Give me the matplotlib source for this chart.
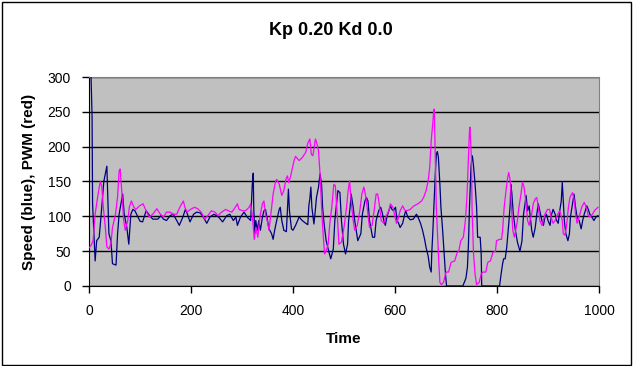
import matplotlib
matplotlib.use("Agg")
import matplotlib.pyplot as plt
from matplotlib.patches import Rectangle

plt.rcParams["font.family"] = ["Liberation Sans", "DejaVu Sans"]

# Speed (blue) series
speed_t = [0, 4, 6, 7, 12, 15, 20, 25, 29, 35, 37, 39, 43, 46, 53, 56, 59, 66, 69, 74,
           78, 82, 86, 90, 100, 105, 112, 120, 125, 135, 141, 146, 152, 159, 165, 172,
           177, 184, 189, 193, 198, 205, 211, 218, 224, 231, 237, 245, 254, 262, 270,
           276, 283, 288, 291, 297, 304, 310, 317, 320, 322, 323, 325, 327, 330, 333,
           336, 340, 343, 346, 350, 353, 358, 361, 364, 368, 373, 375, 378, 382, 387,
           389, 391, 393, 397, 400, 405, 412, 418, 425, 429, 431, 433, 435, 437, 441,
           443, 446, 450, 453, 456, 458, 461, 465, 470, 474, 479, 482, 486, 488, 492,
           495, 499, 503, 507, 509, 512, 514, 518, 521, 524, 527, 533, 536, 541, 544,
           547, 550, 556, 560, 563, 568, 572, 575, 578, 581, 584, 588, 591, 594, 597,
           601, 604, 607, 610, 615, 619, 621, 625, 630, 636, 642, 645, 650, 654, 658,
           661, 665, 668, 671, 672, 674, 677, 679, 681, 683, 685, 688, 690, 693, 696,
           699, 701, 733, 739, 742, 744, 746, 749, 751, 752, 754, 757, 760, 762, 767,
           769, 770, 805, 808, 811, 813, 816, 819, 823, 826, 827, 829, 832, 836, 840,
           845, 849, 852, 855, 857, 860, 863, 866, 868, 871, 875, 878, 881, 884, 888,
           891, 894, 897, 900, 904, 907, 910, 914, 917, 920, 923, 926, 928, 930, 932,
           935, 939, 942, 944, 948, 951, 954, 957, 961, 965, 968, 971, 976, 979, 982,
           986, 990, 994, 998]
speed = [330, 300, 243, 118, 36, 65, 70, 113, 150, 172, 122, 75, 65, 32, 30, 75, 103,
         132, 103, 85, 60, 103, 110, 108, 93, 92, 108, 100, 96, 96, 101, 96, 94, 101,
         103, 94, 87, 99, 110, 103, 92, 103, 106, 105, 99, 90, 99, 103, 99, 92, 101,
         103, 94, 99, 87, 99, 106, 99, 94, 144, 162, 113, 75, 94, 80, 94, 80, 99, 108,
         110, 94, 82, 75, 67, 80, 94, 110, 113, 94, 80, 78, 108, 139, 108, 82, 80, 87,
         99, 94, 90, 88, 115, 125, 142, 113, 89, 103, 127, 142, 161, 146, 113, 89, 65,
         50, 39, 53, 94, 122, 137, 134, 94, 60, 46, 60, 94, 113, 132, 113, 94, 80, 65,
         75, 103, 122, 127, 122, 94, 70, 70, 94, 108, 113, 105, 94, 87, 99, 108, 115,
         110, 108, 113, 94, 90, 84, 90, 103, 108, 99, 95, 96, 103, 99, 90, 80, 67, 55,
         43, 27, 20, 46, 75, 127, 161, 189, 193, 185, 146, 113, 84, 50, 17, 0, 0, 11,
         27, 60, 113, 170, 187, 185, 172, 146, 113, 70, 70, 46, 0, 0, 17, 32, 39, 39,
         55, 89, 118, 146, 134, 103, 80, 63, 50, 65, 103, 118, 130, 108, 115, 94, 80,
         70, 84, 103, 118, 108, 94, 87, 99, 103, 94, 87, 103, 110, 103, 94, 90, 108,
         122, 149, 122, 94, 75, 65, 75, 99, 118, 132, 113, 99, 94, 82, 94, 103, 115,
         110, 103, 99, 94, 99, 101]

# PWM (magenta) series
pwm_t = [0, 4, 8, 12, 17, 22, 25, 28, 32, 35, 39, 43, 46, 52, 56, 59, 61, 65, 68, 71,
         76, 79, 83, 88, 92, 99, 106, 113, 118, 125, 133, 139, 146, 152, 159, 165, 172,
         178, 185, 188, 192, 199, 207, 213, 220, 227, 233, 240, 247, 253, 260, 268,
         273, 280, 286, 291, 294, 301, 307, 314, 317, 320, 324, 327, 331, 335, 340,
         343, 346, 350, 353, 358, 361, 366, 368, 373, 378, 382, 386, 389, 392, 396,
         399, 402, 405, 412, 418, 425, 429, 433, 436, 439, 442, 444, 447, 450, 453,
         456, 459, 462, 465, 469, 472, 476, 480, 483, 487, 490, 495, 500, 505, 508,
         511, 514, 518, 521, 526, 531, 535, 539, 543, 547, 550, 555, 559, 563, 566,
         569, 573, 578, 582, 588, 591, 596, 600, 603, 606, 610, 615, 619, 623, 630,
         637, 645, 652, 656, 661, 665, 668, 671, 674, 676, 677, 679, 681, 684, 686,
         688, 691, 695, 700, 705, 710, 717, 722, 725, 729, 734, 738, 741, 744, 746,
         747, 750, 751, 754, 757, 760, 765, 769, 772, 778, 782, 787, 792, 797, 799,
         805, 809, 811, 814, 818, 821, 823, 826, 828, 831, 834, 839, 843, 847, 850,
         853, 857, 860, 863, 866, 868, 871, 875, 878, 881, 884, 888, 891, 894, 899,
         903, 906, 910, 914, 919, 923, 925, 928, 930, 933, 936, 940, 943, 948, 951,
         954, 957, 961, 966, 971, 975, 979, 982, 987, 992, 998]
pwm = [55, 58, 65, 103, 128, 150, 143, 113, 84, 56, 53, 61, 84, 103, 128, 165, 168,
       128, 94, 80, 94, 113, 122, 113, 110, 115, 118, 106, 99, 103, 111, 104, 99, 106,
       106, 103, 103, 113, 122, 113, 106, 110, 113, 111, 106, 96, 101, 108, 106, 101,
       106, 110, 108, 106, 112, 118, 110, 108, 108, 113, 118, 103, 67, 84, 70, 99, 118,
       122, 103, 92, 80, 113, 132, 151, 153, 146, 130, 137, 153, 158, 148, 160, 170,
       180, 186, 180, 184, 192, 205, 211, 189, 187, 201, 211, 204, 194, 161, 113, 75,
       46, 50, 60, 89, 113, 146, 144, 99, 60, 63, 84, 113, 137, 151, 122, 94, 80, 87,
       108, 132, 142, 127, 103, 84, 87, 108, 132, 132, 118, 94, 90, 99, 108, 118, 113,
       99, 90, 96, 108, 115, 109, 108, 110, 115, 118, 122, 127, 137, 151, 170, 209,
       233, 252, 254, 185, 113, 65, 32, 5, 2, 5, 20, 20, 34, 36, 48, 50, 65, 70, 94,
       127, 185, 223, 228, 180, 113, 46, 17, 2, 5, 17, 20, 20, 34, 36, 48, 50, 65, 67,
       67, 80, 113, 139, 156, 163, 151, 118, 80, 70, 89, 113, 132, 149, 142, 118, 94,
       87, 98, 103, 118, 125, 127, 113, 94, 87, 94, 103, 110, 110, 99, 90, 94, 103,
       108, 103, 94, 75, 73, 84, 113, 127, 134, 125, 103, 90, 99, 113, 120, 113, 101,
       99, 103, 109, 113]

x_ticks = [0, 200, 400, 600, 800, 1000]
y_ticks = [0, 50, 100, 150, 200, 250, 300]

fig = plt.figure(figsize=(6.34, 3.66), dpi=100)
fig.patch.set_facecolor("white")
fig.patches.append(Rectangle((0.003, 0.004), 0.993, 0.99, transform=fig.transFigure,
                             fill=False, edgecolor="black", linewidth=1.0))

ax = fig.add_axes([0.1404, 0.2186, 0.8044, 0.571])
ax.set_facecolor("#C0C0C0")

ax.plot(speed_t, speed, color="#000080", linewidth=0.9, zorder=3)
ax.plot(pwm_t, pwm, color="#FF00FF", linewidth=0.9, zorder=4)

ax.set_xlim(0, 1000)
ax.set_ylim(0, 300)
ax.set_xticks(x_ticks)
ax.set_yticks(y_ticks)
ax.yaxis.grid(True, color="black", linewidth=1.0)
ax.set_axisbelow(True)

for side in ("top", "right"):
    ax.spines[side].set_color("#808080")
for side in ("left", "bottom"):
    ax.spines[side].set_color("black")
ax.tick_params(direction="out", length=5, width=1, labelsize=10, colors="black", pad=8)

fig.text(0.522, 0.918, "Kp 0.20 Kd 0.0", ha="center", va="center",
         fontsize=13, fontweight="bold")
ax.set_xlabel("Time", fontsize=11, fontweight="bold", labelpad=10)
ax.set_ylabel("Speed (blue), PWM (red)", fontsize=11, fontweight="bold", labelpad=8)

fig.savefig("out.png", dpi=100)
